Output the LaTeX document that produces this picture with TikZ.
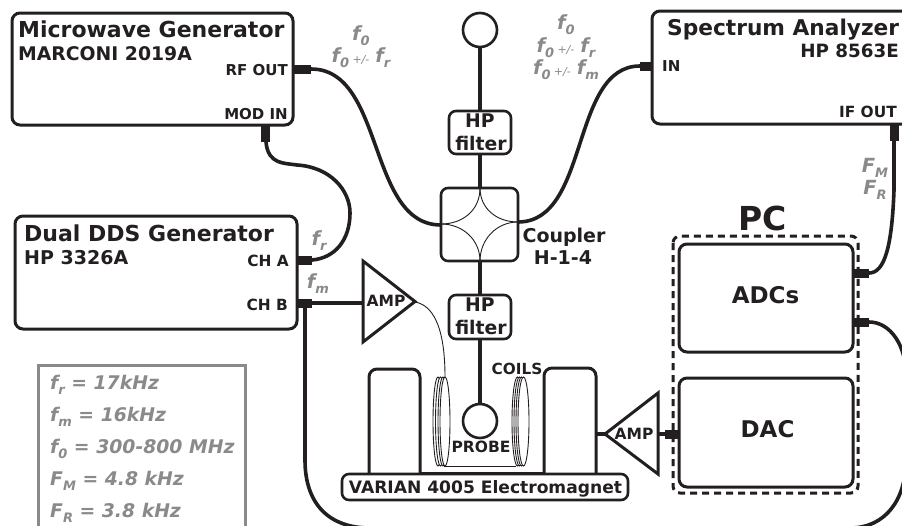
\documentclass[tikz,border=0pt]{standalone}
\usepackage{fontspec}
\setmainfont{DejaVu Sans}
\definecolor{ink}{HTML}{231F20}
\definecolor{gry}{HTML}{8A8A8D}
\tikzset{
  x=1pt,y=-1pt,
  every node/.style={text=ink,font=\bfseries,inner sep=0pt},
  boxs/.style={draw=ink,line width=3pt,rounded corners=8pt,fill=white},
  medbox/.style={draw=ink,line width=2.6pt,rounded corners=7pt,fill=white},
  conn/.style={draw=ink,line width=3.6pt},
  tab/.style={draw=none,fill=ink},
  thin1/.style={draw=ink,line width=0.9pt},
}
\newcommand{\fs}[1]{\fontsize{#1}{#1}\selectfont}
\newcommand{\sbs}[1]{\raisebox{-0.3em}{\fontsize{13}{13}\selectfont #1}}
\newcommand{\plusminus}{\,\raisebox{-0.1em}{\fontsize{11}{11}\selectfont\mdseries +/-}\hspace{6pt}}
\tikzset{
  lbl/.style={text=gry,font=\bfseries\itshape\fs{19.5},anchor=base},
  leg/.style={text=gry,font=\bfseries\itshape\fs{18.8},anchor=base west},
}
\begin{document}
\begin{tikzpicture}
\useasboundingbox (0,0) rectangle (902,525);
\clip (0,0) rectangle (902,525);
% boxes
\draw[boxs] (12,13) rectangle (293,125);
\draw[boxs] (652,11) rectangle (920,124);
\draw[boxs] (15,216) rectangle (297,329);
\draw[draw=gry,line width=3pt] (38,540) -- (38,365) -- (245,365) -- (245,540);
% connectors
\coordinate (rf) at (311,69);
\coordinate (in) at (640,66);
\draw[conn] (rf) .. controls (385,69) and (367,225) .. (441,225);
\draw[conn] (in) .. controls (570,66) and (590,222) .. (518,222);
\coordinate (modin) at (266,142);
\coordinate (cha) at (312,260);
\coordinate (chb) at (312,303);
\draw[conn] (modin) .. controls (268,165) and (285,163) .. (297,165) .. controls (330,167) and (350,190) .. (350,213) .. controls (350,240) and (335,258) .. (cha);
\draw[conn] (chb) -- (363,303);
\draw[conn] (305,303) -- (305,460) .. controls (305,505) and (330,528) .. (370,528) -- (850,528) .. controls (885,528) and (906,500) .. (906,460) -- (906,375) .. controls (906,345) and (890,322) .. (869,322);
\draw[conn] (894,141) -- (894,190) .. controls (892,245) and (885,273) .. (869,273);
% centre line
\draw[conn] (480,47) -- (480,188);
\draw[conn] (480,261) -- (480,404);
% tabs
\fill[tab] (293,64.5) rectangle (311,73.5);
\fill[tab] (640,61.5) rectangle (652,71);
\fill[tab] (261,125) rectangle (270,142);
\fill[tab] (297,255.5) rectangle (312,264.5);
\fill[tab] (297,298.5) rectangle (312,307.5);
\fill[tab] (889.5,124) rectangle (898.5,141);
% coupler
\draw[medbox] (441,188) rectangle (518,261);
\draw[thin1] (480,188) .. controls (480,210) and (463,224) .. (441,224);
\draw[thin1] (480,188) .. controls (480,208) and (496,222) .. (518,222);
\draw[thin1] (480,261) .. controls (480,240) and (463,224) .. (441,224);
\draw[thin1] (480,261) .. controls (480,240) and (496,222) .. (518,222);
\draw[medbox] (480,30) circle (17);
\draw[medbox] (480,421) circle (17);
\draw[medbox] (449,111) rectangle (511,154);
\draw[medbox] (449,295) rectangle (511,339);
% magnet
\draw[line width=3pt,draw=ink,rounded corners=8pt] (369,474) -- (369,369) -- (420,369) -- (420,474);
\draw[line width=3pt,draw=ink,rounded corners=8pt] (544,474) -- (544,368) -- (596,368) -- (596,474);
\draw[line width=3pt,draw=ink] (420,473) -- (544,473);
\draw[thin1] (444,466) -- (516,466);
% coils
\foreach \cx in {438,440.5,443,445} {\draw[thin1,fill=white] (\cx,421.5) ellipse (5 and 44.5);}
\foreach \cx in {517.5,519.5,521.5,523.5} {\draw[thin1,fill=white] (\cx,421.5) ellipse (5.5 and 44.5);}
\draw[medbox] (342,474) rectangle (628,500);
% amps
\draw[draw=ink,line width=3pt,line join=miter,fill=white] (363,261) -- (415,301.5) -- (363,342) -- cycle;
\draw[draw=ink,line width=3pt,line join=miter,fill=white] (605,434) -- (658,393) -- (658,474) -- cycle;
\draw[thin1] (415,302) .. controls (432,305) and (445,325) .. (445,377);
\draw[line width=3.6pt,draw=ink] (596,434) -- (605,434);
\draw[line width=3.6pt,draw=ink] (658,434) -- (679,434);
% PC
\draw[draw=ink,line width=3pt,dash pattern=on 7pt off 5pt,rounded corners=7pt] (673,236) rectangle (858,493);
\draw[boxs] (679,244) rectangle (853,352);
\draw[boxs] (679,378) rectangle (853,487);
\fill[tab] (853,268.5) rectangle (869,277.5);
\fill[tab] (853,317.5) rectangle (869,326.5);
\fill[tab] (665,429.5) rectangle (679,438.5);
% texts
\node[anchor=base west,font=\bfseries\fs{22}] (t1) at (18,37) {Microwave Generator};
\node[anchor=base west,font=\bfseries\fs{18.8}] (t2) at (18,60) {MARCONI 2019A};
\node[anchor=base east,font=\bfseries\fs{15}] (t3) at (288,75) {RF OUT};
\node[anchor=base east,font=\bfseries\fs{15}] (t4) at (288,119) {MOD IN};
\node[anchor=base west,font=\bfseries\fs{21.7}] (t5) at (667,35) {Spectrum Analyzer};
\node[anchor=base east,font=\bfseries\fs{18.3}] (t6) at (899,57) {HP 8563E};
\node[anchor=base west,font=\bfseries\fs{15}] (t7) at (662,71) {IN};
\node[anchor=base east,font=\bfseries\fs{15.4}] (t8) at (897,117) {IF OUT};
\node[anchor=base west,font=\bfseries\fs{22}] (t9) at (24,241) {Dual DDS Generator};
\node[anchor=base west,font=\bfseries\fs{19}] (t10) at (24,264) {HP 3326A};
\node[anchor=base east,font=\bfseries\fs{15.4}] (t11) at (289,266) {CH A};
\node[anchor=base east,font=\bfseries\fs{15.4}] (t12) at (288,310) {CH B};
\node[anchor=base,font=\bfseries\fs{18.8}] (t13) at (480,127) {HP};
\node[anchor=base,font=\bfseries\fs{18.8}] (t14) at (481,150) {filter};
\node[anchor=base,font=\bfseries\fs{18.8}] (t15) at (480,311) {HP};
\node[anchor=base,font=\bfseries\fs{18.8}] (t16) at (481,334) {filter};
\node[anchor=base,font=\bfseries\fs{19}] (t17) at (564,242) {Coupler};
\node[anchor=base,font=\bfseries\fs{19}] (t18) at (563,264) {H-1-4};
\node[anchor=base,font=\bfseries\fs{15.5}] (t19) at (386,306) {AMP};
\node[anchor=base,font=\bfseries\fs{15.5}] (t20) at (634,439) {AMP};
\node[anchor=base,font=\bfseries\fs{15.5}] (t21) at (481,452) {PROBE};
\node[anchor=base,font=\bfseries\fs{15.3}] (t22) at (517,374) {COILS};
\node[anchor=base,font=\bfseries\fs{17.1}] (t23) at (485.5,493) {VARIAN 4005 Electromagnet};
\node[anchor=base,font=\bfseries\fs{33}] (t24) at (763,230) {PC};
\node[anchor=base,font=\bfseries\fs{23}] (t25) at (765.5,303) {ADCs};
\node[anchor=base,font=\bfseries\fs{23}] (t26) at (767.5,437) {DAC};
% grey labels
\node[lbl] (g1) at (361,40) {f\sbs{0}};
\node[lbl] (g2) at (361,62) {f\sbs{0}\plusminus f\sbs{r}};
\node[lbl] (g3) at (566,29) {f\sbs{0}};
\node[lbl] (g4) at (566,52) {f\sbs{0}\plusminus f\sbs{r}};
\node[lbl] (g5) at (566,74) {f\sbs{0}\plusminus f\sbs{m}};
\node[lbl] (g6) at (319,245) {f\sbs{r}};
\node[lbl] (g7) at (318,288) {f\sbs{m}};
\node[lbl] (g8) at (875,172) {F\sbs{M}};
\node[lbl] (g9) at (875,194) {F\sbs{R}};
\node[leg] (l1) at (50,389) {f\sbs{r} = 17kHz};
\node[leg] (l2) at (50,421) {f\sbs{m} = 16kHz};
\node[leg] (l3) at (50,453) {f\sbs{0} = 300-800 MHz};
\node[leg] (l4) at (50,485) {F\sbs{M} = 4.8 kHz};
\node[leg] (l5) at (50,517) {F\sbs{R} = 3.8 kHz};
\end{tikzpicture}
\end{document}
